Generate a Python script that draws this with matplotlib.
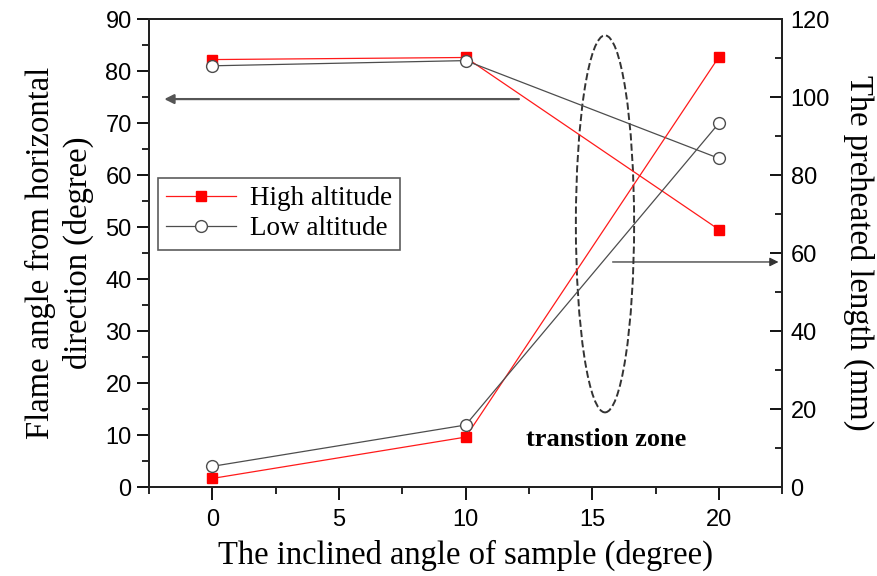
import numpy as np
import matplotlib
matplotlib.use('Agg')
import matplotlib.pyplot as plt
from matplotlib.patches import Ellipse
from matplotlib.ticker import MultipleLocator

# inclined angle of sample (degree)
angle = [0, 10, 20]
# flame angle from horizontal direction (degree), left axis
flame_high = [82.2, 82.6, 49.5]
flame_low = [81.0, 82.0, 63.2]
# preheated length (mm), right axis
preheat_high = [2.2, 12.8, 110.3]
preheat_low = [5.3, 15.9, 93.3]

serif = 'Liberation Serif'
sans = 'Liberation Sans'

fig = plt.figure(figsize=(8.77, 5.76), dpi=100)
ax = fig.add_axes([0.170, 0.1545, 0.722, 0.8125])
ax2 = ax.twinx()

red = '#ff1a1a'
grey = '#4d4d4d'

l1, = ax.plot(angle, flame_high, color=red, lw=0.9, marker='s', ms=7,
              mfc='#ff0000', mec='#ff0000', label='High altitude')
l2, = ax.plot(angle, flame_low, color=grey, lw=0.9, marker='o', ms=8.5,
              mfc='white', mec=grey, mew=1.0, label='Low altitude')
ax2.plot(angle, preheat_high, color=red, lw=0.9, marker='s', ms=7,
         mfc='#ff0000', mec='#ff0000')
ax2.plot(angle, preheat_low, color=grey, lw=0.9, marker='o', ms=8.5,
         mfc='white', mec=grey, mew=1.0)

ax.set_xlim(-2.5, 22.5)
ax.set_ylim(0, 90)
ax2.set_ylim(0, 120)

ax.xaxis.set_major_locator(MultipleLocator(5))
ax.xaxis.set_minor_locator(MultipleLocator(2.5))
ax.yaxis.set_major_locator(MultipleLocator(10))
ax.yaxis.set_minor_locator(MultipleLocator(5))
ax2.yaxis.set_major_locator(MultipleLocator(20))
ax2.yaxis.set_minor_locator(MultipleLocator(10))

for a in (ax, ax2):
    for s in a.spines.values():
        s.set_linewidth(1.4)
        s.set_color('#222222')

ax.tick_params(which='major', direction='out', length=9, width=1.3,
               labelsize=17, right=False, top=False)
ax.tick_params(axis='x', which='major', pad=7)
ax.tick_params(which='minor', direction='out', length=5, width=1.2,
               right=False, top=False)
ax2.tick_params(which='major', direction='in', length=9, width=1.3,
                labelsize=17, pad=6)
ax2.tick_params(which='minor', direction='in', length=5, width=1.2)
for lab in ax.get_xticklabels() + ax.get_yticklabels() + ax2.get_yticklabels():
    lab.set_fontfamily(sans)

ax.set_xlabel('The inclined angle of sample (degree)', fontsize=23.5,
              family=serif, labelpad=6)
ax.set_ylabel('Flame angle from horizontal\ndirection (degree)', fontsize=23.5,
              family=serif, labelpad=8, linespacing=1.3)
ax2.set_ylabel('The preheated length (mm)', fontsize=23.5, family=serif,
               rotation=270, labelpad=32)

# arrows pointing to the axis each pair belongs to
ax.annotate('', xy=(-1.9, 74.6), xytext=(12.1, 74.6),
            arrowprops=dict(arrowstyle='-|>', color='#555555', lw=1.6,
                            mutation_scale=14, shrinkA=0, shrinkB=0))
ax2.annotate('', xy=(22.35, 57.7), xytext=(15.8, 57.7),
             arrowprops=dict(arrowstyle='-|>', color='#333333', lw=0.9,
                             mutation_scale=13, shrinkA=0, shrinkB=0))

ax.add_patch(Ellipse((15.5, 50.6), 2.3, 72.5, fill=False, ls='--',
                     lw=1.4, ec='#333333'))
ax.text(15.55, 9.2, 'transtion zone', fontsize=19, family=serif,
        fontweight='bold', ha='center', va='center')

leg = ax.legend(handles=[l1, l2], loc='upper left',
                bbox_to_anchor=(0.005, 0.672), prop={'family': serif, 'size': 19.5},
                frameon=True, fancybox=False, handlelength=2.6,
                borderpad=0.3, labelspacing=0.2, handletextpad=0.5,
                borderaxespad=0.2)
leg.get_frame().set_edgecolor('#333333')
leg.get_frame().set_linewidth(1.2)

fig.savefig('out.png', dpi=100)
